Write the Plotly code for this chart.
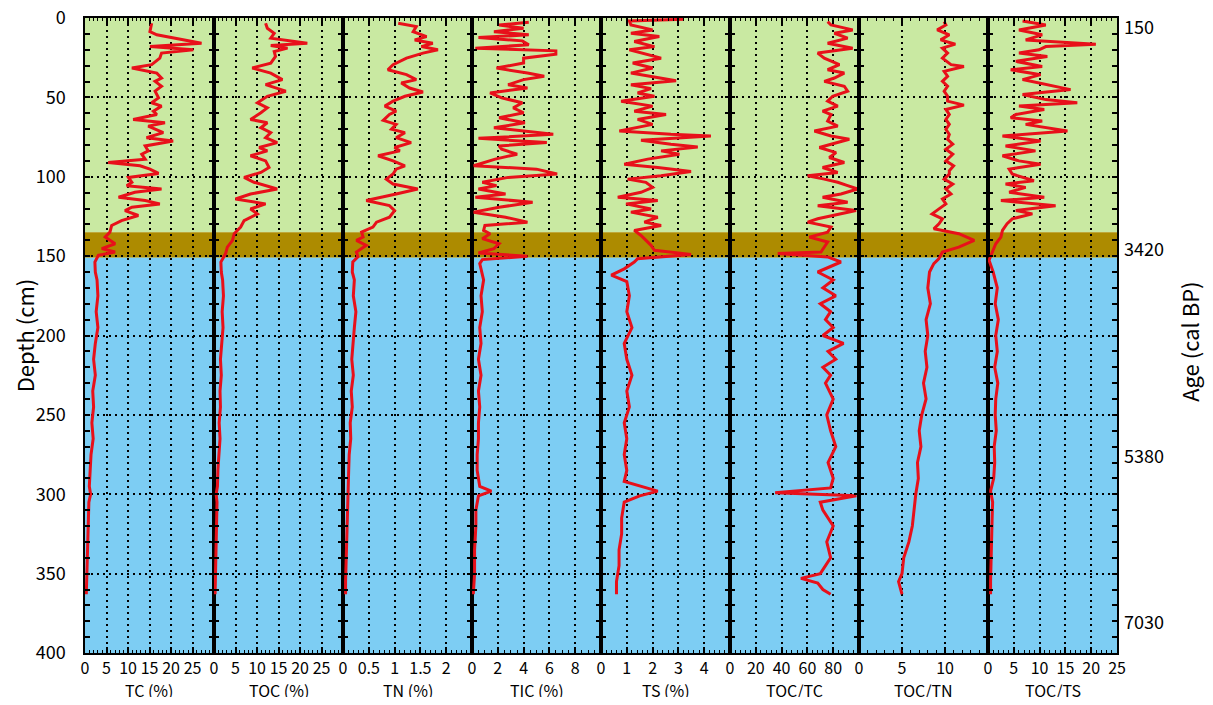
import plotly.graph_objects as go

# ---------------- data (depth in cm) ----------------
tc_depth = [3.3, 8.6, 10.6, 15.9, 18.0, 20.0, 22.1, 25.3, 29.4, 31.5, 34.7, 37.8, 39.9, 43.0, 46.1, 50.3, 53.4, 55.5,
            58.7, 60.8, 63.9, 66.0, 68.1, 72.2, 75.4, 77.5, 80.6, 83.7, 85.8, 88.9, 91.0, 93.1, 95.2, 97.9, 100.4, 103.5,
            105.6, 107.7, 109.8, 112.9, 115.0, 117.1, 119.2, 121.3, 124.4, 127.6, 130.7, 134.9, 138.0, 142.2, 145.3,
            147.4, 149.5, 153.7, 160, 165, 175, 185, 195, 205, 215, 225, 235, 245, 255, 265, 275, 285, 295, 300, 305,
            315, 325, 335, 345, 355, 363]
tc_val = [15.5, 15.1, 16.7, 27.1, 15.1, 25.2, 17.8, 17.4, 15.5, 10.9, 16.7, 17.8, 16.3, 17.8, 16.3, 17.1, 15.5, 17.8,
          15.9, 16.7, 11.2, 18.6, 14.7, 18.2, 14.3, 20.5, 14.0, 14.7, 13.2, 14.0, 5.4, 12.8, 15.1, 17.1, 10.1, 10.9,
          9.7, 17.8, 11.6, 7.8, 14.0, 17.4, 10.9, 9.3, 12.4, 8.5, 6.2, 5.8, 4.7, 7.0, 3.9, 7.0, 3.1, 2.3, 2.4, 2.8,
          3.0, 2.6, 3.0, 2.4, 2.0, 2.4, 1.8, 2.0, 1.6, 1.9, 1.4, 1.2, 1.0, 1.3, 0.9, 0.8, 0.7, 0.6, 0.5, 0.4, 0.3]

toc_depth = [3.3, 6.5, 9.6, 12.7, 15.9, 17.3, 19.0, 21.1, 24.2, 28.4, 31.5, 34.7, 38.8, 42.0, 46.1, 49.3, 53.4, 56.6,
             59.7, 63.9, 66.0, 69.1, 72.2, 75.4, 78.5, 81.6, 83.7, 86.8, 90.0, 94.2, 97.3, 100.4, 103.5, 107.7, 110.9,
             114.0, 117.1, 120.3, 123.4, 127.6, 131.7, 135.9, 140.1, 144.3, 148.4, 153.7, 160, 165, 175, 185, 195, 205,
             215, 225, 235, 245, 255, 265, 275, 285, 295, 300, 305, 315, 325, 335, 345, 355, 363]
toc_val = [12.0, 12.4, 14.0, 13.2, 21.7, 13.2, 17.1, 14.0, 14.3, 13.2, 8.9, 13.2, 15.9, 12.0, 16.7, 12.4, 10.1, 12.4,
           10.9, 8.5, 12.4, 10.9, 13.2, 12.0, 14.7, 10.5, 12.4, 8.5, 12.0, 12.8, 10.9, 7.0, 9.3, 14.7, 8.5, 5.0, 12.0,
           8.5, 10.1, 7.0, 6.2, 4.7, 4.3, 3.1, 2.7, 1.6, 1.7, 2.0, 2.2, 1.9, 2.1, 1.8, 1.5, 1.7, 1.4, 1.5, 1.2, 1.4, 1.1,
           0.9, 0.8, 0.5, 0.7, 0.6, 0.5, 0.45, 0.4, 0.3, 0.25]

tn_depth = [3.3, 5.4, 8.6, 11.7, 13.8, 15.9, 18.0, 20.0, 22.1, 25.3, 29.4, 32.6, 35.7, 38.8, 40.9, 44.1, 46.6, 49.3,
            52.4, 55.5, 58.7, 60.8, 64.5, 67.0, 70.1, 72.2, 75.4, 78.5, 81.6, 83.7, 86.8, 90.0, 93.1, 95.2, 98.3, 101.5,
            104.6, 107.7, 110.9, 115.0, 118.2, 121.3, 125.5, 128.6, 131.7, 134.9, 138.0, 140.1, 143.2, 147.4, 150.5,
            153.7, 160, 165, 175, 185, 195, 205, 215, 225, 235, 245, 255, 265, 275, 285, 295, 305, 315, 325, 335, 345,
            355, 363]
tn_val = [1.07, 1.42, 1.36, 1.62, 1.39, 1.74, 1.52, 1.84, 1.55, 1.23, 0.97, 0.87, 1.23, 1.42, 1.13, 1.29, 1.55, 1.2,
          0.97, 0.81, 1.03, 0.9, 0.78, 1.03, 0.94, 1.2, 1.03, 1.32, 1.0, 1.1, 0.68, 0.97, 1.2, 1.03, 0.97, 0.84, 0.97,
          1.45, 1.03, 0.45, 0.9, 1.0, 0.9, 0.65, 0.58, 0.36, 0.39, 0.26, 0.45, 0.26, 0.29, 0.19, 0.18, 0.22, 0.2, 0.25,
          0.22, 0.2, 0.17, 0.2, 0.16, 0.18, 0.14, 0.15, 0.12, 0.11, 0.1, 0.09, 0.08, 0.07, 0.06, 0.06, 0.05, 0.05]

tic_depth = [2.7, 4.4, 6.5, 8.6, 10.6, 12.3, 14.4, 16.9, 19.0, 20.7, 22.8, 25.3, 28.4, 31.5, 34.7, 36.7, 38.8, 42.0,
             44.1, 47.2, 50.3, 53.4, 56.6, 59.7, 62.8, 66.0, 69.1, 73.3, 75.8, 78.5, 80.6, 82.7, 85.8, 88.9, 93.1, 95.2,
             98.3, 100.4, 103.5, 105.6, 107.7, 110.9, 112.9, 116.1, 119.2, 122.3, 125.5, 128.6, 130.7, 133.8, 135.9,
             139.0, 142.2, 145.3, 148.0, 150.1, 152.2, 154.7, 165, 175, 185, 195, 205, 215, 225, 235, 245, 255, 265,
             275, 285, 295, 298, 301, 310, 320, 335, 350, 363]
tic_val = [4.4, 2.1, 4.0, 1.7, 4.4, 0.5, 3.9, 4.4, 0.26, 6.5, 6.5, 4.0, 4.0, 1.9, 4.3, 5.6, 4.0, 2.8, 4.3, 1.4, 2.3,
           3.9, 3.2, 4.0, 2.1, 4.1, 1.7, 6.3, 0.5, 5.8, 2.1, 2.3, 3.5, 1.8, 0.13, 5.0, 6.6, 2.8, 0.8, 1.9, 0.5, 2.6,
           0.26, 4.7, 2.1, 0.13, 2.6, 4.3, 1.0, 0.9, 1.4, 0.8, 2.1, 1.7, 0.5, 4.3, 0.8, 0.6, 0.9, 0.7, 0.8, 0.6, 0.7,
           0.5, 0.7, 0.5, 0.6, 0.5, 0.5, 0.4, 0.4, 0.6, 1.5, 0.5, 0.3, 0.3, 0.2, 0.2, 0.1]

ts_depth = [0.8, 1.9, 4.4, 7.5, 9.6, 11.7, 14.8, 18.0, 20.0, 22.8, 25.3, 28.4, 31.5, 34.7, 36.7, 39.5, 42.0, 44.5, 47.2,
            49.3, 52.4, 55.5, 58.7, 60.8, 63.9, 67.0, 71.2, 73.3, 74.3, 77.0, 79.5, 81.2, 83.7, 85.8, 88.9, 92.1, 94.2,
            96.7, 99.4, 101.5, 103.5, 106.7, 109.8, 112.9, 115.0, 117.1, 120.3, 122.3, 125.5, 128.6, 130.7, 133.8,
            137.0, 140.1, 143.2, 146.3, 148.9, 151.6, 153.7, 158, 162, 166, 175, 185, 195, 205, 215, 225, 235, 245,
            255, 265, 275, 285, 292, 298, 301, 305, 315, 325, 335, 345, 355, 363]
ts_val = [3.2, 1.1, 1.16, 2.0, 1.16, 2.26, 1.29, 2.07, 1.1, 1.81, 2.33, 1.23, 2.0, 1.16, 1.94, 2.91, 1.16, 1.94, 1.42,
          2.07, 0.78, 2.0, 1.29, 2.52, 1.42, 2.0, 0.71, 2.71, 4.26, 1.55, 2.71, 3.75, 2.33, 3.04, 1.81, 0.9, 2.2, 3.49,
          2.33, 1.03, 1.74, 2.0, 1.55, 0.65, 2.2, 0.97, 1.94, 1.16, 2.2, 1.68, 2.33, 1.29, 1.55, 1.74, 1.94, 2.07, 3.49,
          1.42, 1.29, 0.9, 0.4, 1.0, 1.1, 1.0, 1.2, 0.9, 1.0, 1.2, 1.0, 1.1, 0.9, 1.0, 0.9, 1.0, 0.9, 2.2, 1.5, 0.9,
          0.8, 0.8, 0.7, 0.7, 0.6, 0.6]

toc_tc_depth = [2.3, 4.4, 7.5, 9.6, 12.7, 15.9, 19.0, 22.1, 25.3, 29.4, 32.6, 34.7, 37.8, 39.9, 43.0, 46.1, 49.3, 52.4,
                55.5, 58.7, 60.8, 64.9, 68.1, 71.2, 74.3, 76.4, 79.5, 81.6, 84.8, 87.9, 91.0, 94.2, 97.3, 99.4, 101.5,
                103.5, 105.6, 107.7, 110.9, 112.9, 116.1, 118.2, 121.3, 124.4, 126.5, 128.6, 131.7, 134.9, 138.0, 141.1,
                144.3, 147.4, 148.4, 150.5, 153.7, 160, 165, 170, 175, 180, 185, 190, 195, 200, 205, 210, 215, 220, 225,
                230, 240, 250, 260, 270, 280, 290, 296, 299, 301, 305, 310, 320, 330, 340, 350, 353, 356, 360, 363]
toc_tc_val = [75.7, 78.3, 95.1, 80.9, 91.2, 75.7, 95.1, 68.0, 73.1, 84.8, 75.7, 88.6, 80.9, 73.1, 88.6, 91.2, 79.6,
              75.7, 83.5, 71.8, 78.3, 75.7, 83.5, 65.4, 78.3, 92.5, 78.3, 69.3, 82.2, 77.0, 88.6, 71.8, 83.5, 60.2, 73.1,
              83.5, 91.2, 99.0, 86.0, 71.8, 91.2, 68.0, 97.7, 80.9, 68.0, 60.2, 78.3, 75.7, 61.5, 75.7, 73.1, 70.5, 37.0,
              75.7, 86.0, 68, 80, 72, 82, 70, 78, 74, 80, 72, 88, 76, 82, 72, 78, 74, 80, 75, 78, 82, 76, 80, 78, 35, 98,
              70, 72, 80, 75, 78, 70, 55, 68, 72, 78]

toc_tn_depth = [2.3, 4.4, 7.5, 10.6, 13.8, 16.5, 19.0, 22.1, 25.3, 29.4, 30.5, 33.6, 36.7, 39.9, 43.0, 46.1, 49.3, 52.4,
                54.9, 57.6, 60.8, 63.9, 67.0, 70.1, 73.3, 76.4, 79.5, 82.7, 85.8, 90.0, 93.1, 96.2, 98.3, 101.5, 104.6,
                107.7, 110.9, 114.0, 117.1, 120.3, 123.4, 126.5, 129.6, 132.8, 135.9, 140.1, 142.2, 144.3, 147.4, 151.6,
                154.7, 160, 170, 180, 190, 200, 210, 220, 230, 240, 250, 260, 270, 280, 290, 300, 310, 320, 330, 340, 350,
                355, 363]
toc_tn_val = [9.9, 10.1, 9.1, 10.5, 9.5, 11.2, 9.7, 10.3, 9.7, 10.7, 12.2, 9.9, 10.3, 9.7, 10.3, 9.9, 10.3, 10.3, 12.2,
              10.1, 10.5, 10.1, 10.5, 10.1, 10.5, 10.3, 10.9, 10.1, 10.9, 10.1, 11.0, 10.5, 10.5, 9.9, 10.9, 10.1, 10.7,
              9.7, 10.1, 9.3, 8.5, 9.7, 9.3, 8.7, 11.6, 13.4, 12.4, 11.6, 9.7, 9.3, 8.7, 8.2, 8.0, 8.3, 7.8, 8.0, 7.7,
              7.9, 7.5, 7.8, 7.3, 7.0, 7.2, 6.8, 6.9, 6.6, 6.4, 6.2, 5.8, 5.2, 5.0, 4.6, 5.0]

toc_ts_depth = [1.9, 4.4, 7.5, 10.6, 13.8, 16.5, 18.0, 20.0, 22.1, 24.2, 27.3, 30.5, 32.6, 35.7, 38.8, 42.0, 45.1, 48.2,
                51.4, 53.4, 55.5, 57.6, 60.8, 62.8, 64.9, 67.0, 71.2, 74.3, 77.5, 80.6, 83.7, 86.8, 90.0, 92.1, 95.2,
                98.3, 102.5, 104.6, 106.7, 109.8, 112.9, 115.0, 118.2, 121.3, 123.4, 126.5, 129.6, 133.8, 138.0, 142.2,
                147.4, 152.6, 160, 170, 180, 190, 200, 210, 220, 230, 240, 250, 260, 270, 280, 290, 298, 305, 315, 325,
                340, 355, 363]
toc_ts_val = [6.7, 11.2, 6.0, 10.5, 7.3, 20.9, 11.2, 9.9, 6.0, 11.5, 5.4, 10.5, 4.4, 10.2, 6.7, 11.2, 16.0, 6.7, 11.2,
              17.3, 6.0, 10.9, 5.4, 4.4, 10.5, 7.3, 15.4, 2.8, 10.2, 3.4, 9.2, 2.8, 6.0, 10.2, 4.1, 4.7, 8.9, 3.4, 7.3,
              4.1, 10.9, 2.5, 13.1, 5.4, 8.6, 4.7, 3.7, 2.8, 2.5, 1.5, 0.8, 0.2, 1.0, 1.8, 1.4, 2.0, 1.5, 1.8, 1.3, 1.9,
              1.5, 1.4, 1.6, 1.2, 1.3, 1.1, 0.5, 0.9, 0.8, 0.7, 0.6, 0.5, 0.5]

panel_titles = ["TC (%)", "TOC (%)", "TN (%)", "TIC (%)", "TS (%)", "TOC/TC", "TOC/TN", "TOC/TS"]
panel_ranges = [[0, 30], [0, 30], [0, 2.5], [0, 10], [0, 5], [0, 100], [0, 15], [0, 25]]
panel_ticks = [[0, 5, 10, 15, 20, 25], [0, 5, 10, 15, 20, 25], [0, 0.5, 1, 1.5, 2], [0, 2, 4, 6, 8],
               [0, 1, 2, 3, 4], [0, 20, 40, 60, 80], [0, 5, 10], [0, 5, 10, 15, 20, 25]]
panel_minor = [1, 1, 0.1, 0.5, 0.2, 4, 1, 1]

depth_ticks = [0, 50, 100, 150, 200, 250, 300, 350, 400]
age_depths = [5, 145, 275, 380]
age_labels = ["150", "3420", "5380", "7030"]

zone_bounds = [0, 135, 151, 400]
zone_colors = ["#c9e9a2", "#ad8b00", "#7dcdf3"]

series = [(tc_depth, tc_val), (toc_depth, toc_val), (tn_depth, tn_val), (tic_depth, tic_val),
          (ts_depth, ts_val), (toc_tc_depth, toc_tc_val), (toc_tn_depth, toc_tn_val), (toc_ts_depth, toc_ts_val)]

FONT = "Liberation Sans Narrow, Noto Sans CJK JP, sans-serif"
# page body has an 8px margin, so the figure is 16px smaller than the window
W, H = 1197, 689
fig = go.Figure()
n = len(series)
for i, (d, v) in enumerate(series):
    sfx = "" if i == 0 else str(i + 1)
    fig.add_trace(go.Scatter(x=v, y=d, mode="lines", xaxis="x" + sfx, yaxis="y",
                             line=dict(color="#e8101a", width=3), showlegend=False,
                             hoverinfo="skip"))
    fig.layout["xaxis" + sfx] = dict(
        domain=[i / n, (i + 1) / n], anchor="y", range=panel_ranges[i],
        tickmode="array", tickvals=panel_ticks[i],
        ticktext=[("%g" % t) for t in panel_ticks[i]], tickangle=0,
        ticks="inside", ticklen=6, tickwidth=1.5, tickcolor="black",
        minor=dict(tickmode="linear", tick0=0, dtick=panel_minor[i], ticks="inside",
                   ticklen=3, tickwidth=1, tickcolor="black", showgrid=False),
        showgrid=True, gridcolor="black", gridwidth=1.5, griddash="2px,4px",
        showline=True, linecolor="black", linewidth=1.5, mirror="ticks",
        zeroline=False, automargin=False, ticklabelstandoff=0, ticklabeloverflow="allow",
        tickfont=dict(family=FONT, size=16, color="black"),
    )
    # panel title below the tick labels
    fig.add_annotation(xref="x" + sfx + " domain", yref="paper", x=0.5, y=0, yshift=-23,
                       xanchor="center", yanchor="top", text=panel_titles[i], showarrow=False,
                       font=dict(family=FONT, size=16, color="black"))

fig.update_layout(
    yaxis=dict(range=[400, 0], domain=[0, 1], anchor="x", tickmode="array", tickvals=depth_ticks,
               ticks="inside", ticklen=5, tickwidth=1.5, tickcolor="black",
               minor=dict(tickmode="linear", tick0=0, dtick=10, ticks="inside", ticklen=5,
                          tickwidth=1.5, tickcolor="black", showgrid=False),
               showgrid=True, gridcolor="black", gridwidth=1.5, griddash="2px,4px",
               showline=True, linecolor="black", linewidth=1.5, mirror="allticks",
               zeroline=False, automargin=False, ticklabelstandoff=14, ticklabeloverflow="allow",
               tickfont=dict(family=FONT, size=18, color="black"),
               title=dict(text="Depth (cm)", font=dict(family=FONT, size=22, color="black"), standoff=18)),
    width=W, height=H,
    margin=dict(l=77, r=88, t=10, b=44),
    paper_bgcolor="white", plot_bgcolor="rgba(0,0,0,0)",
)

for k in range(len(zone_colors)):
    fig.add_shape(type="rect", xref="paper", yref="y", x0=0, x1=1,
                  y0=zone_bounds[k], y1=zone_bounds[k + 1],
                  fillcolor=zone_colors[k], line=dict(width=0), layer="below")

# age labels on the right-hand side
for dep, lab in zip(age_depths, age_labels):
    fig.add_annotation(xref="paper", yref="y", x=1, y=dep, xshift=5, xanchor="left", yanchor="middle",
                       text=lab, showarrow=False, font=dict(family=FONT, size=18, color="black"))
fig.add_annotation(xref="paper", yref="paper", x=1, y=0.49, xshift=72, xanchor="center", yanchor="middle",
                   text="Age (cal BP)", textangle=-90, showarrow=False,
                   font=dict(family=FONT, size=22, color="black"))

fig.write_html("out.html")
